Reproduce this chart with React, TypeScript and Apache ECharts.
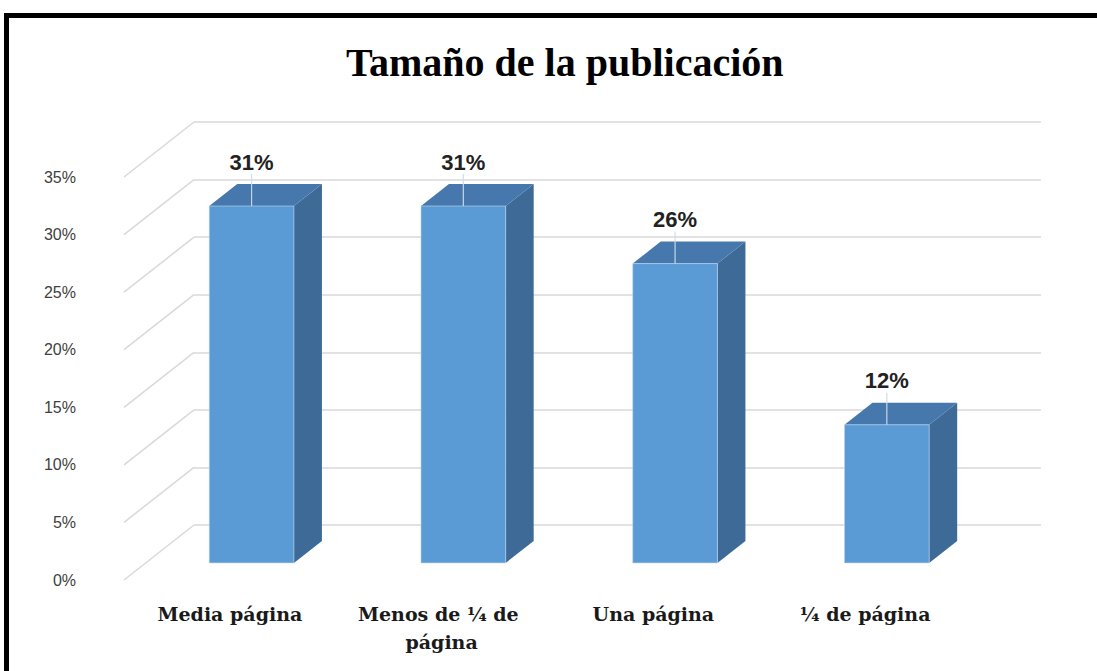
import React, { useEffect, useRef } from 'react';
import * as echarts from 'echarts';

const title = 'Tamaño de la publicación';
const categories = ['Media página', 'Menos de ¼ de página', 'Una página', '¼ de página'];
const values = [31, 31, 26, 12];
const yTicks = [0, 5, 10, 15, 20, 25, 30, 35];

const FRONT = { left: 124, right: 126, top: 177, bottom: 91 };
const DEPTH = { dx: 70, dy: -55 };
const BACK = {
  left: FRONT.left + DEPTH.dx,
  right: FRONT.right - DEPTH.dx,
  top: FRONT.top + DEPTH.dy,
  bottom: FRONT.bottom - DEPTH.dy,
};
const BAR_FRONT = 0.31;
const BAR_BACK = 0.71;
const BAR_WIDTH = 0.4;
const GRID_COLOR = '#D9D9D9';

export default function App() {
  const ref = useRef<HTMLDivElement>(null);
  useEffect(() => {
    if (!ref.current) return;
    const chart = echarts.init(ref.current, null, { renderer: 'svg' });
    const option: any = {
      animation: false,
      backgroundColor: '#fff',
      title: {
        text: title,
        left: 341,
        top: 37,
        textStyle: { fontFamily: 'Liberation Serif', fontWeight: 'bold', fontSize: 40, color: '#000' },
      },
      graphic: [
        {
          type: 'rect',
          shape: { x: 6.5, y: 15.5, width: 1300, height: 900 },
          style: { fill: 'none', stroke: '#000', lineWidth: 5 },
          silent: true,
        },
      ],
      grid: [
        { ...FRONT },
        { ...BACK },
      ],
      xAxis: [
        {
          type: 'category',
          gridIndex: 0,
          data: categories,
          axisLine: { show: false },
          axisTick: { show: false },
          axisLabel: {
            interval: 0,
            margin: 20,
            width: 180,
            overflow: 'break',
            lineHeight: 28,
            fontFamily: 'DejaVu Serif',
            fontWeight: 'bold',
            fontSize: 19,
            color: '#1a1a1a',
          },
        },
        {
          type: 'category',
          gridIndex: 1,
          data: categories,
          show: false,
        },
      ],
      yAxis: [
        {
          type: 'value',
          gridIndex: 0,
          min: 0,
          max: 35,
          interval: 5,
          axisLine: { show: false },
          axisTick: { show: false },
          splitLine: { show: false },
          axisLabel: {
            formatter: '{value}%',
            margin: 48,
            fontFamily: 'Liberation Sans',
            fontSize: 16,
            color: '#404040',
          },
        },
        {
          type: 'value',
          gridIndex: 1,
          min: 0,
          max: 35,
          interval: 5,
          axisLine: { show: false },
          axisTick: { show: false },
          axisLabel: { show: false },
          splitLine: { show: true, lineStyle: { color: GRID_COLOR, width: 1.5 } },
        },
      ],
      series: [
        {
          type: 'custom',
          xAxisIndex: 0,
          yAxisIndex: 0,
          clip: false,
          silent: true,
          z: 1,
          data: yTicks.map((t) => [0, t]),
          renderItem: (params: any, api: any) => {
            const cs = params.coordSys;
            const p = api.coord([0, api.value(1)]);
            return {
              type: 'line',
              shape: { x1: cs.x, y1: p[1], x2: cs.x + DEPTH.dx, y2: p[1] + DEPTH.dy },
              style: { stroke: GRID_COLOR, lineWidth: 1.5 },
            };
          },
        },
        {
          type: 'custom',
          xAxisIndex: 0,
          yAxisIndex: 0,
          clip: false,
          z: 5,
          data: values.map((v, i) => [i, v]),
          renderItem: (params: any, api: any) => {
            const i = api.value(0);
            const v = api.value(1);
            const top = api.coord([i, v]);
            const base = api.coord([i, 0]);
            const band = api.size([1, 0])[0];
            const w = band * BAR_WIDTH;
            const fx = BAR_FRONT * DEPTH.dx;
            const fy = BAR_FRONT * DEPTH.dy;
            const ddx = (BAR_BACK - BAR_FRONT) * DEPTH.dx;
            const ddy = (BAR_BACK - BAR_FRONT) * DEPTH.dy;
            const x0 = top[0] + fx - w / 2;
            const x1 = x0 + w;
            const yt = top[1] + fy;
            const yb = base[1] + fy;
            const cx = x0 + w / 2;
            return {
              type: 'group',
              children: [
                {
                  type: 'polygon',
                  shape: { points: [[x1, yt], [x1 + ddx, yt + ddy], [x1 + ddx, yb + ddy], [x1, yb]] },
                  style: { fill: '#3D6A96' },
                },
                {
                  type: 'polygon',
                  shape: { points: [[x0, yt], [x1, yt], [x1 + ddx, yt + ddy], [x0 + ddx, yt + ddy]] },
                  style: { fill: '#4678AD' },
                },
                {
                  type: 'rect',
                  shape: { x: x0, y: yt, width: w, height: yb - yt },
                  style: { fill: '#5B9BD5', stroke: 'rgba(190,215,240,0.6)', lineWidth: 1 },
                },
                {
                  type: 'line',
                  shape: { x1: cx, y1: yt, x2: cx, y2: yt - 32 },
                  style: { stroke: 'rgba(205,220,235,0.95)', lineWidth: 1.2 },
                },
                {
                  type: 'text',
                  x: cx,
                  y: yt - 44,
                  style: {
                    text: v + '%',
                    fill: '#222',
                    fontFamily: 'Liberation Sans',
                    fontWeight: 'bold',
                    fontSize: 22,
                    align: 'center',
                    verticalAlign: 'middle',
                  },
                },
              ],
            };
          },
        },
      ],
    };
    chart.setOption(option);
    return () => chart.dispose();
  }, []);
  return (
    <div
      ref={ref}
      style={{ position: 'fixed', left: 0, top: 0, width: 1097, height: 671 }}
    />
  );
}
